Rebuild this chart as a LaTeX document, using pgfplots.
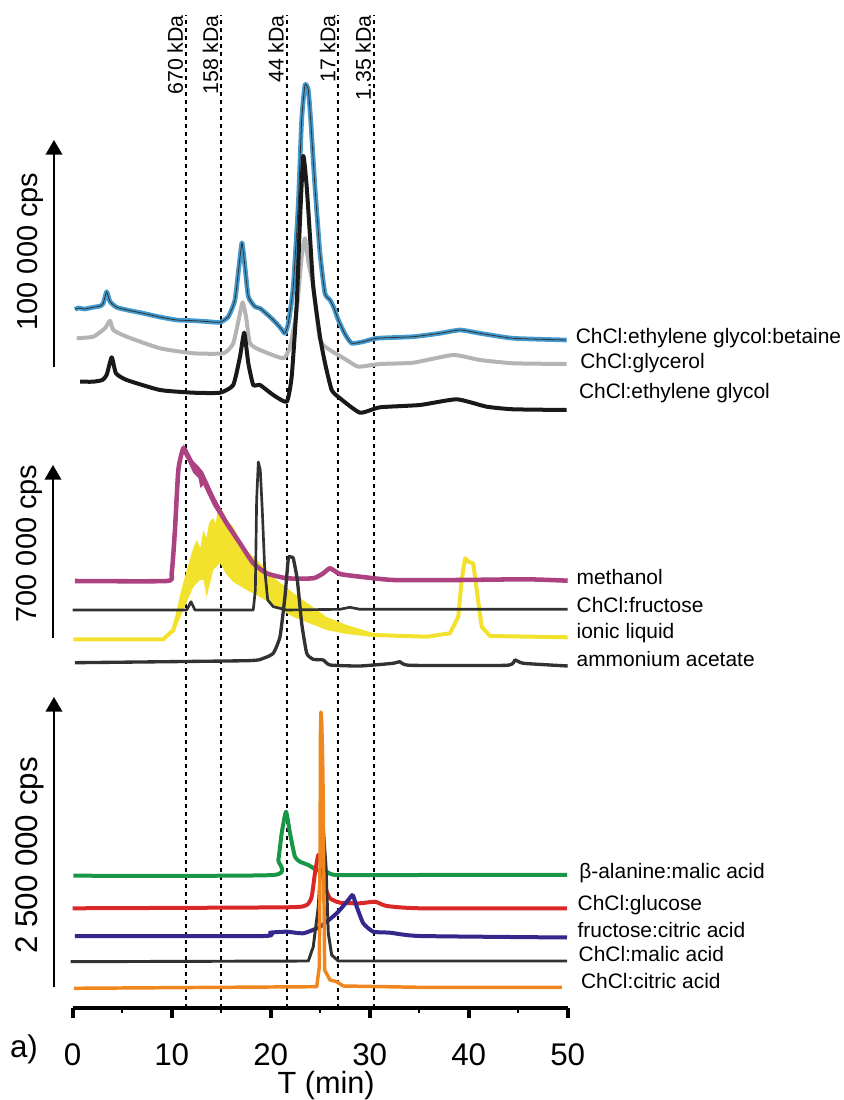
\documentclass[border=0pt]{standalone}
\usepackage{fontspec}
\setmainfont{Liberation Sans}
\usepackage{pgfplots}
\pgfplotsset{compat=1.18}
\usetikzlibrary{arrows.meta}
\definecolor{cblue}{RGB}{66,153,206}
\definecolor{cgray}{RGB}{180,180,180}
\definecolor{cblack}{RGB}{25,25,25}
\definecolor{cmag}{RGB}{172,66,130}
\definecolor{cdark}{RGB}{50,50,50}
\definecolor{cyel}{RGB}{243,226,45}
\definecolor{cgreen}{RGB}{25,150,70}
\definecolor{cred}{RGB}{218,40,40}
\definecolor{cpurp}{RGB}{52,40,140}
\definecolor{corange}{RGB}{240,135,30}
\pgfplotstableread{
t y
0.23 790.7
0.6 792
1.2 791
2.08 792.7
2.8 794
3.09 796.7
3.43 808.3
3.77 798.3
4.44 792.7
5.5 790
7.13 786.7
8.8 783
10.51 780
12.18 779.3
13.5 778.5
14.88 777.7
15.72 783.3
16.39 800
16.83 836.7
17.10 857.3
17.40 833.3
17.74 803.3
18.41 793.3
18.92 791.7
19.6 786
20.26 780
21.0 772
21.44 766.7
21.78 776.7
22.28 813.3
22.79 896.7
23.13 980
23.46 1015
23.80 1010
24.04 980
24.47 913.3
24.98 846.7
25.48 806.7
25.99 800
26.4 792
26.83 780
27.5 766
28.18 756.7
29.35 758.3
30.71 761.7
34.40 763.3
37.10 766.7
39.12 770
41.14 766.7
44.51 761.7
49.90 760
}\betaine
\begin{document}
\begin{tikzpicture}
\begin{axis}[
  x=7.425pt, y=0.75pt,
  xmin=0, xmax=50, ymin=92, ymax=1100,
  clip=false,
  axis x line*=bottom, axis y line=none,
  x axis line style={-, line width=3pt, black},
  xtick={0,10,20,30,40,50},
  minor xtick={5,15,25,35,45},
  tick align=outside,
  major tick length=7.5pt,
  minor tick length=3.5pt,
  every major tick/.append style={line width=3pt, black},
  every minor tick/.append style={line width=1.5pt, black},
  xticklabel style={font=\fontsize{23.5}{28}\selectfont, anchor=base, inner sep=0pt, yshift=-35.5pt},
  /pgf/number format/assume math mode=true,
  curve/.style={line join=round, smooth, tension=0.3},
]
% bounding box 844 x 1100 px
\path (axis cs:-7.343,0) rectangle (axis cs:77.909,1100);

% reference lines
\pgfplotsset{refl/.style={line width=1.5pt, black, dash pattern=on 3pt off 3pt, forget plot}}
\addplot[refl] coordinates {(11.44,92) (11.44,1085)};
\addplot[refl] coordinates {(14.98,92) (14.98,1085)};
\addplot[refl] coordinates {(21.60,92) (21.60,1085)};
\addplot[refl] coordinates {(26.83,92) (26.83,1085)};
\addplot[refl] coordinates {(30.43,92) (30.43,1085)};
\begin{scope}[every node/.style={rotate=90, anchor=base east, inner sep=0pt, font=\fontsize{16}{19}\selectfont}]
\node at (axis cs:11.14,1085) {670 kDa};
\node at (axis cs:14.68,1085) {158 kDa};
\node at (axis cs:21.30,1085) {44 kDa};
\node at (axis cs:26.53,1085) {17 kDa};
\node at (axis cs:30.13,1085) {1.35 kDa};
\end{scope}

% ---- top panel
\addplot[cgray, line width=3pt, curve] coordinates {
(0.40,761.7)(2.08,763.3)(3.26,771.7)(3.77,779.3)(4.10,770)(5.45,763.3)(8.82,751.7)(12.18,746.7)(15.21,746.7)(16.22,756.7)(16.90,786.7)(17.17,797.7)(17.51,783.3)(17.91,756.7)(18.92,750)(21.27,741.7)(21.95,753.3)(22.63,790)(23.13,843.3)(23.46,861.7)(23.80,838.3)(24.30,813.3)(24.98,760)(25.99,750)(27.68,740)(28.85,733.3)(31.04,736)(34.40,737.3)(38.44,745)(41.14,740)(44.51,736.7)(49.90,736)};
\addplot[cblue, line width=3.5pt, curve] table[x=t,y=y] {\betaine};
\addplot[cdark, line width=0.6pt, curve] table[x=t,y=y] {\betaine};
\addplot[cblack, line width=3pt, curve] coordinates {
(0.74,718.3)(2.08,718.3)(3.0,720)(3.43,725)(3.94,742.7)(4.37,726.7)(5.45,720)(8.82,710)(12.18,707.3)(14.88,707.3)(16.22,715)(16.90,743.3)(17.33,767.3)(17.74,736.7)(18.24,715)(18.92,715)(20.26,705)(21.62,698.3)(22.12,723.3)(22.63,796.7)(22.96,880)(23.29,944)(23.64,913)(23.97,863.3)(24.30,813.3)(24.98,763.3)(25.49,736.7)(26.16,710)(27.00,701.7)(29.02,687.3)(31.04,692.7)(35.08,695)(38.79,700.7)(41.82,693.3)(44.51,690.7)(49.90,690)};

% ---- middle panel
\addplot[fill=cyel, draw=none] coordinates {
(10.2,474)(10.84,505)(11.52,530)(12.18,552)(12.53,560)(12.9,552)(13.19,570)(13.5,562)(13.8,578)(14.2,582)(14.45,576)(14.71,595)(15.2,588)(15.6,580)(16.22,573)(17.0,558)(17.91,546)(18.92,537)(19.6,530)(20.6,520)(22.28,507)(23.97,495)(25.66,483)(27.68,475)(30.36,467)
(30.36,463)(27.68,466)(25.66,470)(22.28,483)(18.92,503)(17.58,510)(16.22,518)(15.5,526)(14.88,537)(14.2,530)(13.54,503)(13.2,520)(12.86,520)(12.18,513)(11.52,498)(10.84,482)(10.2,466)} -- cycle;
\addplot[cyel, line width=3pt, line join=round] coordinates {
(0.06,460.7)(9.15,460.7)(10.16,470)(10.84,493)(11.52,514)(12.18,532)(13.19,545)(14.2,556)(14.71,565)(16.22,546)(17.91,528)(18.92,520)(20.6,507)(22.28,495)(23.97,485)(25.66,476)(27.68,470)(30.36,465)(35.76,463.3)(38.11,466.7)(38.95,483.3)(39.29,520)(39.63,541.7)(40.0,538)(40.46,536.7)(40.81,510)(41.31,473.3)(42.15,464)(50,462.7)};
\addplot[fill=cmag, draw=none] coordinates {
(11.17,656)(11.68,648)(12.18,639)(12.7,634)(13.19,628)(14.2,606)(15.56,580)
(15.56,573)(14.2,594)(13.19,615)(12.9,612)(12.7,622)(12.18,627)(11.68,638)(11.17,647)} -- cycle;
\addplot[cmag, line width=3.4pt, curve] coordinates {
(0.23,519)(9.49,519)(10.0,526.7)(10.33,570)(10.67,630)(11.17,651.7)(11.68,643.3)(12.18,633.3)(12.7,628)(13.19,621.7)(14.20,600)(15.56,576.7)(16.90,556.7)(18.24,536.7)(19.60,526.7)(21.62,521.7)(24.30,521.7)(25.31,526.7)(25.99,531.7)(27.0,526)(29.02,523.3)(32.38,520)(39.12,520)(45.86,520.7)(50.0,519.3)};
\addplot[cdark, line width=2pt, line join=round] coordinates {
(0,490)(11.52,490)(11.95,498.3)(12.35,490)(18.24,490)(18.45,510)(18.58,600)(18.75,638)(18.95,630)(19.15,590)(19.4,530)(19.7,500)(20.26,493.3)(21.62,490)(27.0,490.7)(28.0,492.7)(29.02,490.7)(50,490.7)};
\addplot[cdark, line width=2.5pt, curve] coordinates {
(0.23,437.3)(17.58,439.3)(19.25,441.7)(20.26,446.7)(20.94,463.3)(21.44,503.3)(21.78,541.7)(22.0,543)(22.28,541.7)(22.69,520)(23.13,476.7)(23.64,446.7)(24.30,440.7)(25.31,440)(25.99,435)(29.02,434)(32.38,436.7)(33.06,438.3)(34.07,434.7)(43.84,434.7)(44.68,440)(45.52,436.7)(50,434)};

% ---- bottom panel
\addplot[cgreen, line width=3pt, curve] coordinates {
(0.06,224.3)(20.26,225)(20.77,240)(21.11,266.7)(21.55,288.3)(21.95,266.7)(22.45,243.3)(22.96,238.3)(23.80,235)(24.65,230)(25.66,228.3)(26.67,225)(35.08,225)(49.93,225)};
\addplot[cred, line width=3pt, curve] coordinates {
(0,191.7)(21.62,192.7)(23.64,195)(24.14,203.3)(24.47,226.7)(24.81,245)(25.15,236.7)(25.48,213.3)(25.99,201.7)(27.0,197.3)(29.02,196.7)(30.54,198.3)(31.72,194)(35.08,191.7)(49.93,191.7)};
\addplot[cpurp, line width=3pt, curve] coordinates {
(0.23,164)(19.25,164)(19.93,167.3)(21.62,168.3)(23.29,166.7)(24.98,173.3)(26.67,186.7)(27.84,200)(28.28,205)(28.69,193.3)(29.35,176.7)(30.36,168.3)(32.07,167.3)(35.08,164)(49.93,162.5)};
\addplot[cdark, line width=2.2pt, line join=round] coordinates {
(-0.2,138.3)(23.80,139)(24.30,153.3)(24.81,193.3)(25.15,253.3)(25.31,274)(25.59,233.3)(25.82,166.7)(26.16,145)(26.83,139)(49.93,139)};
\addplot[corange, line width=2.6pt, line join=round] coordinates {
(0.13,111.7)(24.65,113.3)(24.91,133.3)(24.98,233.3)(25.03,370)(25.08,388)(25.15,380)(25.25,340)(25.31,300)(25.38,200)(25.45,130)(25.99,120)(26.67,118.3)(27.33,114)(35.08,112.7)(49.4,112.7)};

% y arrows
\draw[line width=1.1pt, -{Triangle[width=12.5pt,length=11pt]}] (axis cs:-1.89,733) -- (axis cs:-1.89,960);
\draw[line width=1.1pt, -{Triangle[width=12.5pt,length=11pt]}] (axis cs:-1.99,462) -- (axis cs:-1.99,635);
\draw[line width=1.1pt, -{Triangle[width=12.5pt,length=11pt]}] (axis cs:-1.89,113) -- (axis cs:-1.89,403);
\node[rotate=90, font=\fontsize{21.7}{26}\selectfont] at (axis cs:-4.31,848.5) {100 000 cps};
\node[rotate=90, font=\fontsize{21.7}{26}\selectfont] at (axis cs:-4.41,556.5) {700 000 cps};
\node[rotate=90, font=\fontsize{23.5}{28}\selectfont] at (axis cs:-4.36,244.5) {2 500 000 cps};

% series labels
\begin{scope}[every node/.style={anchor=base west, inner sep=0pt, font=\fontsize{15.7}{19}\selectfont}]
\node at (axis cs:50.80,756.7) {ChCl:ethylene glycol:betaine};
\node at (axis cs:51.25,731.7) {ChCl:glycerol};
\node at (axis cs:51.12,701.7) {ChCl:ethylene glycol};
\node at (axis cs:50.88,515) {methanol};
\node at (axis cs:50.88,487.7) {ChCl:fructose};
\node at (axis cs:50.88,461.7) {ionic liquid};
\node at (axis cs:50.88,433.3) {ammonium acetate};
\node at (axis cs:51.15,221.7) {β-alanine:malic acid};
\node at (axis cs:50.98,190) {ChCl:glucose};
\node at (axis cs:50.98,162.7) {fructose:citric acid};
\node at (axis cs:51.08,138.3) {ChCl:malic acid};
\node at (axis cs:51.32,111.7) {ChCl:citric acid};
\end{scope}

\node[anchor=base, inner sep=0pt, font=\fontsize{23.5}{28}\selectfont] at (axis cs:-4.92,43) {a)};
\node[anchor=base, inner sep=0pt, font=\fontsize{23}{28}\selectfont] at (axis cs:25.6,6.5) {T (min)};
\end{axis}
\end{tikzpicture}
\end{document}
